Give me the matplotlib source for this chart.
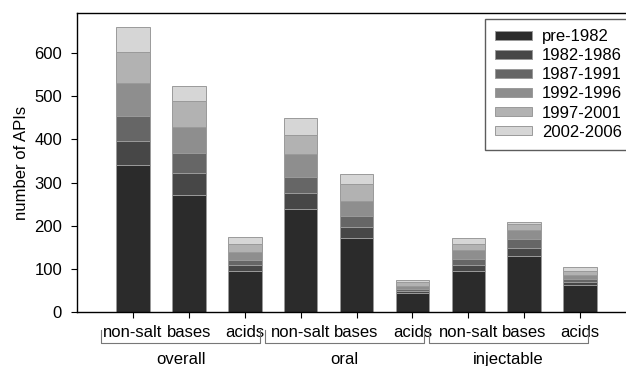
import matplotlib
matplotlib.use("Agg")
import matplotlib.pyplot as plt
import numpy as np

plt.rcParams['font.family'] = ['Liberation Sans', 'DejaVu Sans']

periods = ["pre-1982", "1982-1986", "1987-1991", "1992-1996", "1997-2001", "2002-2006"]
tick_labels = ["non-salt", "bases", "acids"] * 3
groups = ["overall", "oral", "injectable"]

pre1982 = [341, 272, 96, 239, 172, 45, 95, 130, 63]
p1982_1986 = [55, 50, 13, 37, 26, 4, 15, 19, 7]
p1987_1991 = [58, 46, 12, 37, 25, 4, 13, 20, 8]
p1992_1996 = [77, 60, 19, 53, 34, 8, 21, 21, 8]
p1997_2001 = [71, 60, 18, 45, 39, 9, 15, 15, 9]
p2002_2006 = [58, 35, 16, 38, 24, 5, 12, 5, 9]
series = [pre1982, p1982_1986, p1987_1991, p1992_1996, p1997_2001, p2002_2006]

colors = ["#2b2b2b", "#474747", "#666666", "#8e8e8e", "#b2b2b2", "#d6d6d6"]

FS = 12
W, H = 626, 366
fig = plt.figure(figsize=(W / 100, H / 100), dpi=100)
ax_left, ax_right, ax_top, ax_bot = 77.3, 627, 13.3, 312.3
ax = fig.add_axes([ax_left / W, 1 - ax_bot / H, (ax_right - ax_left) / W, (ax_bot - ax_top) / H])

x = np.arange(len(pre1982))
bottom = np.zeros(len(x))
for vals, col, lab in zip(series, colors, periods):
    ax.bar(x, vals, width=0.6, bottom=bottom, color=col, edgecolor="#9a9a9a",
           linewidth=0.7, label=lab)
    bottom += np.array(vals)

ax.set_xlim(-0.996, 8.84)
ax.set_ylim(0, 692)
ax.set_yticks([0, 100, 200, 300, 400, 500, 600])
ax.set_xticks(x)
ax.set_xticklabels(tick_labels, fontsize=FS)
ax.tick_params(axis='x', direction='out', length=4, width=0.8, pad=5)
ax.tick_params(axis='y', direction='out', length=4, width=0.8, pad=7, labelsize=FS)
ax.spines['right'].set_visible(False)
for s in ['left', 'bottom', 'top']:
    ax.spines[s].set_linewidth(1.0)
ax.set_ylabel("number of APIs", fontsize=FS, labelpad=4)

# group brackets
trans = ax.get_xaxis_transform()
starts = [-0.567, 2.36, 5.30]
ends = [2.276, 5.20, 8.14]
yb = -0.1037
yt = -0.0592
for s, e, g in zip(starts, ends, groups):
    ax.plot([s, s, e, e], [yt, yb, yb, yt], transform=trans, color="#777777",
            linewidth=0.8, clip_on=False)
    ax.text((s + e) / 2, -0.157, g, transform=trans, ha='center', va='center',
            fontsize=FS)

leg = ax.legend(loc='upper left', bbox_to_anchor=(485.3 / W, 1 - 19 / H),
                bbox_transform=fig.transFigure, fontsize=FS, frameon=True,
                fancybox=False, handlelength=2.2, handleheight=0.46,
                handletextpad=0.6, labelspacing=0.25, borderpad=0.6,
                borderaxespad=0)
leg.get_frame().set_edgecolor('#333333')
leg.get_frame().set_linewidth(1.0)

fig.savefig("out.png", dpi=100)
